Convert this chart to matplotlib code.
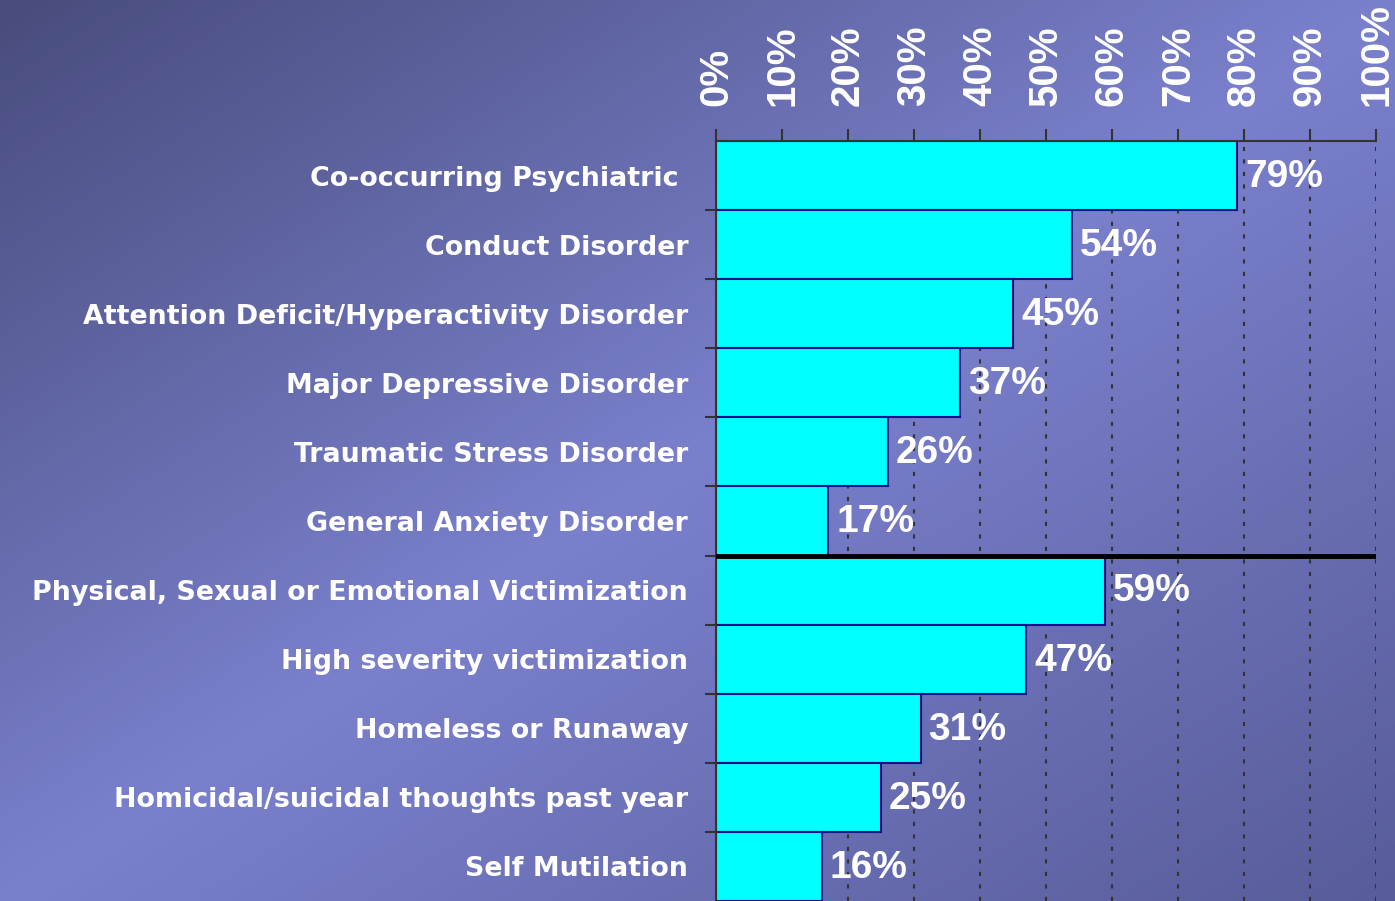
import numpy
import matplotlib
matplotlib.use('Agg')
import matplotlib.pyplot
from matplotlib.colors import LinearSegmentedColormap

categories = ['Co-occurring Psychiatric ', 'Conduct Disorder',
              'Attention Deficit/Hyperactivity Disorder', 'Major Depressive Disorder',
              'Traumatic Stress Disorder', 'General Anxiety Disorder',
              'Physical, Sexual or Emotional Victimization', 'High severity victimization',
              'Homeless or Runaway', 'Homicidal/suicidal thoughts past year',
              'Self Mutilation']
values = [79, 54, 45, 37, 26, 17, 59, 47, 31, 25, 16]
tick_values = [0, 10, 20, 30, 40, 50, 60, 70, 80, 90, 100]
tick_labels = [f'{t}%' for t in tick_values]

fig = matplotlib.pyplot.figure(figsize=(13.95, 9.01), dpi=100)

# background gradient: dark top-left, light diagonal band, darker bottom-right
bg = fig.add_axes([0, 0, 1, 1], zorder=0)
gx, gy = numpy.meshgrid(numpy.linspace(0, 1, 400), numpy.linspace(0, 1, 300))
grad = (gx + gy) / 2
cmap = LinearSegmentedColormap.from_list('bg', [(0, '#484c7c'), (0.5, '#7a80cc'), (1, '#585c9a')])
bg.imshow(grad, cmap=cmap, aspect='auto', extent=[0, 1, 1, 0], vmin=0, vmax=1)
bg.axis('off')

ax = fig.add_axes([716 / 1395, 0, 660 / 1395, 760 / 901], zorder=1)
ax.patch.set_alpha(0)
ypos = numpy.arange(len(values))
ax.barh(ypos, values, height=1.0, color='#00ffff', edgecolor='#10108a', linewidth=1.5, zorder=2)
ax.set_xlim(0, 100)
ax.set_ylim(len(values) - 0.5, -0.5)

ax.axhline(5.5, color='black', linewidth=3.5, zorder=3)

for y, v in zip(ypos, values):
    ax.text(v + 1.2, y + 0.02, f'{v}%', va='center', ha='left', color='white',
            fontsize=28, fontweight='bold', family='Liberation Sans', zorder=4)

ax.xaxis.tick_top()
ax.set_xticks(tick_values)
ax.set_xticklabels(tick_labels, rotation=90, color='white', fontsize=29, fontweight='bold',
                   family='Liberation Sans')
ax.tick_params(axis='x', direction='out', length=9, width=1.5, color='#333333', pad=16)
ax.xaxis.grid(True, linestyle=(0, (2, 4)), color='#333333', linewidth=1.5)
ax.set_axisbelow(True)

ax.set_yticks(ypos)
ax.set_yticklabels(categories, color='white', fontsize=19.4, fontweight='bold',
                   family='DejaVu Sans')
ax.tick_params(axis='y', length=0, pad=20)
ax.set_yticks(numpy.arange(0.5, len(values) - 0.5, 1.0), minor=True)
ax.tick_params(axis='y', which='minor', direction='out', length=8, width=1.5, color='#333333')

ax.spines['right'].set_visible(False)
ax.spines['bottom'].set_visible(False)
ax.spines['left'].set_color('#333333')
ax.spines['left'].set_linewidth(1.5)
ax.spines['top'].set_color('#333333')
ax.spines['top'].set_linewidth(1.5)

fig.savefig('out.png', dpi=100)
